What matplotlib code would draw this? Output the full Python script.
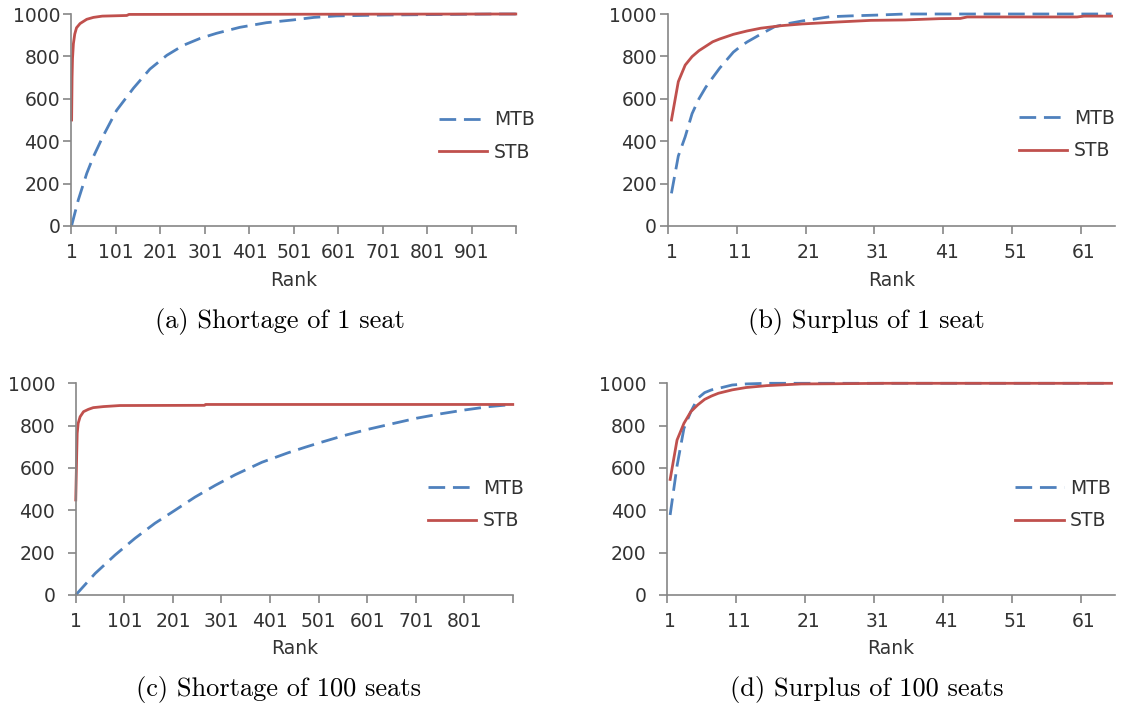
import numpy as np
import matplotlib.pyplot as plt

W, H = 1125, 707

# (a) shortage of 1 seat
rank_a_mtb = [1, 16, 35, 50, 72, 102, 140, 177, 215, 252, 290, 327, 379, 439, 499,
              546, 597, 698, 800, 950, 1000]
mtb_a = [2, 123, 248, 327, 425, 545, 650, 740, 805, 852, 885, 909, 937, 959, 972,
         984, 991, 995, 997, 1000, 1000]
rank_a_stb = [1, 2, 3, 5, 8, 12, 20, 35, 50, 70, 125, 130, 1000]
stb_a = [500, 700, 790, 860, 905, 935, 955, 975, 984, 990, 993, 998, 1000]

# (b) surplus of 1 seat
rank_b_mtb = [1, 2, 3, 4, 5, 6, 7, 8, 9, 10, 11, 12, 14, 16, 18, 20, 22, 24, 27, 31, 35, 65]
mtb_b = [154, 330, 421, 530, 600, 655, 700, 744, 782, 820, 846, 868, 905, 940, 955, 967,
         977, 987, 991, 995, 1000, 1000]
rank_b_stb = [1, 2, 3, 4, 5, 6, 7, 8, 9, 10, 12, 14, 17, 20, 25, 30, 35, 40, 43, 44, 60, 61, 65]
stb_b = [500, 681, 759, 799, 827, 848, 869, 882, 893, 904, 920, 933, 945, 953, 962, 970,
         972, 978, 979, 986, 986, 990, 990]

# (c) shortage of 100 seats
rank_c_mtb = [1, 41, 82, 123, 164, 205, 246, 288, 329, 384, 438, 473, 501, 551, 601, 654,
              702, 752, 801, 852, 900]
mtb_c = [0, 102, 189, 268, 339, 400, 462, 518, 568, 627, 672, 698, 718, 752, 782, 810,
         835, 856, 874, 890, 900]
rank_c_stb = [1, 3, 4, 6, 10, 17, 27, 37, 58, 92, 266, 268, 900]
stb_c = [449, 669, 764, 811, 842, 866, 877, 885, 890, 895, 896, 900, 900]

# (d) surplus of 100 seats
rank_d_mtb = [1, 2, 3, 4, 5, 6, 7, 8, 10, 12, 15, 65]
mtb_d = [378, 610, 787, 866, 929, 956, 969, 976, 992, 997, 1000, 1000]
rank_d_stb = [1, 2, 3, 4, 5, 6, 7, 8, 9, 10, 12, 15, 20, 25, 32, 65]
stb_d = [546, 732, 811, 866, 898, 924, 940, 953, 961, 969, 980, 989, 997, 998, 1000, 1000]

captions = ["(a) Shortage of 1 seat", "(b) Surplus of 1 seat",
            "(c) Shortage of 100 seats", "(d) Surplus of 100 seats"]

BLUE = "#4F81BD"
RED = "#C0504D"
GREY = "#868686"
TEXT = "#333333"
FS = 13.5

plt.rcParams["font.family"] = "DejaVu Sans"

fig = plt.figure(figsize=(W / 100, H / 100), dpi=100)


def px_axes(left, top, right, bottom):
    return fig.add_axes([left / W, 1 - bottom / H, (right - left) / W, (bottom - top) / H])


def draw_panel(ax, n, step, mx, my, sx, sy, leg_xy, ypad):
    ax.plot(mx, my, color=BLUE, lw=2.0, dashes=(6, 2.8), label="MTB", clip_on=False)
    ax.plot(sx, sy, color=RED, lw=2.0, label="STB", clip_on=False)
    ax.set_xlim(0.5, n + 0.5)
    ax.set_ylim(0, 1000)

    for side in ("top", "right"):
        ax.spines[side].set_visible(False)
    for side in ("left", "bottom"):
        ax.spines[side].set_color(GREY)
        ax.spines[side].set_linewidth(1.2)

    # ticks sit between categories, labels on the categories
    ax.set_xticks(np.arange(0.5, n + 1, step))
    ax.set_xticklabels([])
    centers = np.arange(1, n + 1, step)
    ax.set_xticks(centers, minor=True)
    ax.set_xticklabels([str(c) for c in centers], minor=True)
    ax.tick_params(axis="x", which="major", length=5.5, width=1.2, color=GREY)
    ax.tick_params(axis="x", which="minor", length=0, pad=12.5, labelsize=FS, labelcolor=TEXT)

    ax.set_yticks(np.arange(0, 1001, 200))
    ax.tick_params(axis="y", length=5.6, width=1.2, color=GREY, pad=ypad,
                   labelsize=FS, labelcolor=TEXT)

    ax.set_xlabel("Rank", fontsize=FS, color=TEXT)
    ax.xaxis.set_label_coords(0.5, -0.255)
    ax.xaxis.label.set_verticalalignment("center")

    ax.legend(loc="center left", bbox_to_anchor=(leg_xy[0] / W, 1 - leg_xy[1] / H),
              bbox_transform=fig.transFigure, frameon=False, fontsize=FS,
              handlelength=2.6, handletextpad=0.35, labelspacing=0.7,
              borderpad=0, borderaxespad=0, labelcolor=TEXT)


ax_a = px_axes(71.4, 14, 516, 226)
draw_panel(ax_a, 1000, 100, rank_a_mtb, mtb_a, rank_a_stb, stb_a, (438.6, 136), 2.4)

ax_b = px_axes(668, 14, 1115, 226)
draw_panel(ax_b, 65, 10, rank_b_mtb, mtb_b, rank_b_stb, stb_b, (1018.7, 134.5), 2.4)

ax_c = px_axes(75.5, 383.3, 513, 595)
draw_panel(ax_c, 900, 100, rank_c_mtb, mtb_c, rank_c_stb, stb_c, (427.5, 504.5), 9.0)

ax_d = px_axes(666.7, 383.3, 1115, 595)
draw_panel(ax_d, 65, 10, rank_d_mtb, mtb_d, rank_d_stb, stb_d, (1014.8, 504.5), 9.0)

cap_pos = [(280, 328), (866, 328), (278, 696), (867, 696)]
for text, (cx, cy) in zip(captions, cap_pos):
    fig.text(cx / W, 1 - cy / H, text, family="cmr10", fontsize=19,
             ha="center", va="baseline", color="black")

fig.savefig("out.png", dpi=100, facecolor="white")
